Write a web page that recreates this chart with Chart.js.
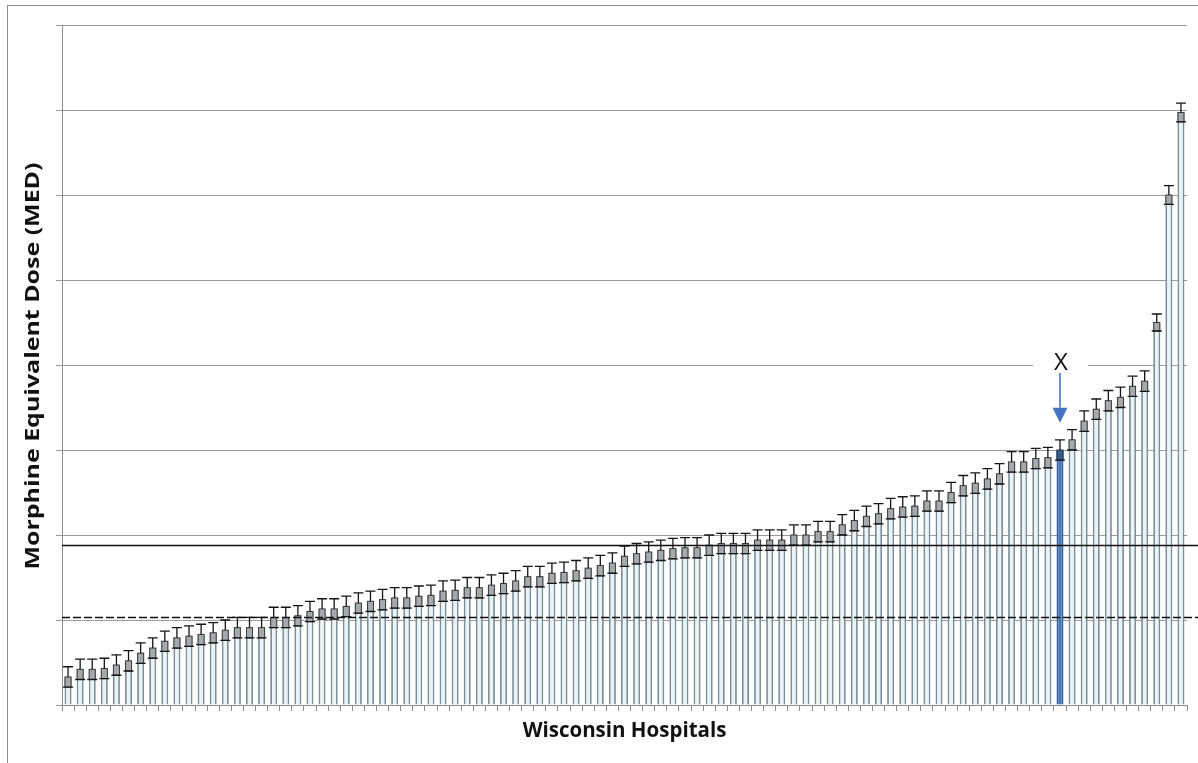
<!DOCTYPE html>
<html>
<head>
<meta charset="utf-8">
<script src="https://cdn.jsdelivr.net/npm/chart.js@4.4.1/dist/chart.umd.min.js"></script>
<style>
  html, body { margin: 0; padding: 0; background: #fff; }
  #wrap { position: relative; width: 1198px; height: 763px; }
  #frame { position: absolute; left: 7px; top: 5px; right: 0; bottom: 0;
           border-left: 1px solid #8a8a8a; border-top: 1px solid #8a8a8a; pointer-events: none; }
  canvas { position: absolute; left: 0; top: 0; }
</style>
</head>
<body>
<div id="wrap">
  <canvas id="medChart" width="1198" height="763"></canvas>
  <div id="frame"></div>
</div>
<script>
// MED per hospital, sorted ascending
const medValues = [
  3.3, 4.2, 4.2, 4.3, 4.7, 5.2, 6.1, 6.7, 7.5, 7.9,
  8.1, 8.3, 8.5, 8.8, 9.1, 9.1, 9.1, 10.3, 10.3, 10.5,
  11.0, 11.3, 11.3, 11.6, 12.0, 12.2, 12.4, 12.6, 12.6, 12.8,
  12.9, 13.4, 13.5, 13.8, 13.8, 14.1, 14.3, 14.6, 15.1, 15.1,
  15.5, 15.6, 15.8, 16.1, 16.4, 16.7, 17.5, 17.8, 18.0, 18.2,
  18.4, 18.5, 18.5, 18.8, 19.0, 19.0, 19.0, 19.4, 19.4, 19.4,
  20.0, 20.0, 20.4, 20.4, 21.2, 21.7, 22.2, 22.5, 23.1, 23.3,
  23.4, 24.0, 24.0, 25.0, 25.8, 26.1, 26.6, 27.2, 28.6, 28.6,
  29.0, 29.1, 30.0, 31.2, 33.4, 34.8, 35.8, 36.2, 37.5, 38.1,
  45.0, 60.0, 69.7
];
// half-width of the error bars
const medErrors = [
  1.2, 1.2, 1.2, 1.2, 1.2, 1.2, 1.2, 1.2, 1.2, 1.2,
  1.2, 1.2, 1.2, 1.2, 1.2, 1.2, 1.2, 1.2, 1.2, 1.2,
  1.2, 1.2, 1.2, 1.2, 1.2, 1.2, 1.2, 1.2, 1.2, 1.2,
  1.2, 1.2, 1.2, 1.2, 1.2, 1.2, 1.2, 1.2, 1.2, 1.2,
  1.2, 1.2, 1.2, 1.2, 1.2, 1.2, 1.2, 1.2, 1.2, 1.2,
  1.2, 1.2, 1.2, 1.2, 1.2, 1.2, 1.2, 1.2, 1.2, 1.2,
  1.2, 1.2, 1.2, 1.2, 1.2, 1.2, 1.2, 1.2, 1.2, 1.2,
  1.2, 1.2, 1.2, 1.2, 1.2, 1.2, 1.2, 1.2, 1.2, 1.2,
  1.2, 1.2, 1.2, 1.2, 1.2, 1.2, 1.2, 1.2, 1.2, 1.2,
  1.0, 1.1, 1.1
];
const hospitals = medValues.map((_, i) => 'Hospital ' + (i + 1));
const highlightIndex = 82;
const highlightLabel = 'X';
const solidLineValue = 18.8;
const dashedLineValue = 10.3;
const yTicks = [0, 10, 20, 30, 40, 50, 60, 70, 80];
const yTitle = 'Morphine Equivalent Dose (MED)';
const xTitle = 'Wisconsin Hospitals';

const fills = medValues.map((_, i) => i === highlightIndex ? '#4a78b8' : '#eaf3f6');
const borders = medValues.map((_, i) => i === highlightIndex ? '#35629c' : '#7a8f98');

const overlay = {
  id: 'overlay',
  beforeDatasetsDraw(chart) {
    // white gap in the gridline behind the "X" label
    const ctx = chart.ctx;
    const bar = chart.getDatasetMeta(0).data[highlightIndex];
    const y = chart.scales.y.getPixelForValue(40);
    ctx.save();
    ctx.fillStyle = '#fff';
    ctx.fillRect(bar.x - 27, y - 3, 55, 6);
    ctx.restore();
  },
  afterDatasetsDraw(chart) {
    const ctx = chart.ctx;
    const ys = chart.scales.y;
    const area = chart.chartArea;
    const meta = chart.getDatasetMeta(0);

    // error bars
    ctx.save();
    meta.data.forEach((bar, i) => {
      const v = medValues[i], e = medErrors[i];
      const yTop = ys.getPixelForValue(v + e);
      const yBar = ys.getPixelForValue(v);
      const yBot = ys.getPixelForValue(v - e);
      const w = bar.width;
      ctx.fillStyle = i === highlightIndex ? '#2f5a92' : '#a3abaf';
      ctx.fillRect(bar.x - w / 2, yBar, w, yBot - yBar);
      ctx.strokeStyle = '#3a3a3a';
      ctx.lineWidth = 1;
      ctx.strokeRect(bar.x - w / 2 + 0.5, yBar, w - 1, yBot - yBar);
      ctx.strokeStyle = '#151515';
      ctx.lineWidth = 1.3;
      ctx.beginPath();
      ctx.moveTo(bar.x, yTop);
      ctx.lineTo(bar.x, yBar);
      ctx.moveTo(bar.x - 5, yTop);
      ctx.lineTo(bar.x + 5, yTop);
      ctx.moveTo(bar.x - 5, yBot);
      ctx.lineTo(bar.x + 5, yBot);
      ctx.stroke();
    });
    ctx.restore();

    // reference lines
    ctx.save();
    ctx.strokeStyle = '#111';
    ctx.lineWidth = 1.3;
    let y = Math.round(ys.getPixelForValue(solidLineValue)) + 0.5;
    ctx.beginPath();
    ctx.moveTo(area.left, y);
    ctx.lineTo(chart.width, y);
    ctx.stroke();
    y = Math.round(ys.getPixelForValue(dashedLineValue)) + 0.5;
    ctx.setLineDash([8, 3]);
    ctx.lineWidth = 1.5;
    ctx.beginPath();
    ctx.moveTo(area.left, y);
    ctx.lineTo(chart.width, y);
    ctx.stroke();
    ctx.restore();

    // "X" marker with arrow
    const hb = meta.data[highlightIndex];
    const tip = ys.getPixelForValue(medValues[highlightIndex] + medErrors[highlightIndex]) - 17;
    const labelY = ys.getPixelForValue(40) - 2;
    ctx.save();
    ctx.fillStyle = '#111';
    ctx.font = '24px "Open Sans"';
    ctx.textAlign = 'center';
    ctx.textBaseline = 'middle';
    ctx.fillText(highlightLabel, hb.x + 1, labelY);
    ctx.strokeStyle = '#4472c4';
    ctx.fillStyle = '#4472c4';
    ctx.lineWidth = 1.6;
    ctx.beginPath();
    ctx.moveTo(hb.x, labelY + 10);
    ctx.lineTo(hb.x, tip - 15);
    ctx.stroke();
    ctx.beginPath();
    ctx.moveTo(hb.x - 7.5, tip - 15);
    ctx.lineTo(hb.x + 7.5, tip - 15);
    ctx.lineTo(hb.x, tip);
    ctx.closePath();
    ctx.fill();
    ctx.restore();
  },
  afterDraw(chart) {
    // y axis title, stretched along its length like the original
    const ctx = chart.ctx;
    const area = chart.chartArea;
    ctx.save();
    ctx.font = 'bold 20px "Open Sans"';
    ctx.fillStyle = '#111';
    ctx.textAlign = 'center';
    ctx.textBaseline = 'middle';
    const stretch = 407 / ctx.measureText(yTitle).width;
    ctx.translate(33, (area.top + area.bottom) / 2 + 1);
    ctx.rotate(-Math.PI / 2);
    ctx.scale(stretch, 1);
    ctx.fillText(yTitle, 0, 0);
    ctx.restore();
  }
};

new Chart(document.getElementById('medChart'), {
  type: 'bar',
  data: {
    labels: hospitals,
    datasets: [{
      data: medValues,
      backgroundColor: fills,
      borderColor: borders,
      borderWidth: 1.8,
      barPercentage: 0.58,
      categoryPercentage: 1.0
    }]
  },
  options: {
    responsive: false,
    animation: false,
    devicePixelRatio: 1,
    layout: { padding: { left: 0, top: 25, right: 11, bottom: 0 } },
    plugins: { legend: { display: false }, tooltip: { enabled: false } },
    scales: {
      x: {
        grid: { drawOnChartArea: false, drawTicks: true, tickLength: 6, color: '#8c8c8c', offset: true },
        border: { color: '#8c8c8c' },
        ticks: { display: false },
        title: {
          display: true, text: xTitle, color: '#111',
          font: { family: 'Open Sans', size: 20.5, weight: 'bold' },
          padding: { top: 0, bottom: 20 }
        },
        afterFit(s) { s.height = 58; }
      },
      y: {
        min: 0, max: 80,
        afterBuildTicks(s) { s.ticks = yTicks.map(v => ({ value: v })); },
        ticks: { display: false },
        grid: { color: '#9a9a9a', tickLength: 6 },
        border: { color: '#8c8c8c' },
        afterFit(s) { s.width = 62; }
      }
    }
  },
  plugins: [overlay]
});
</script>
</body>
</html>
